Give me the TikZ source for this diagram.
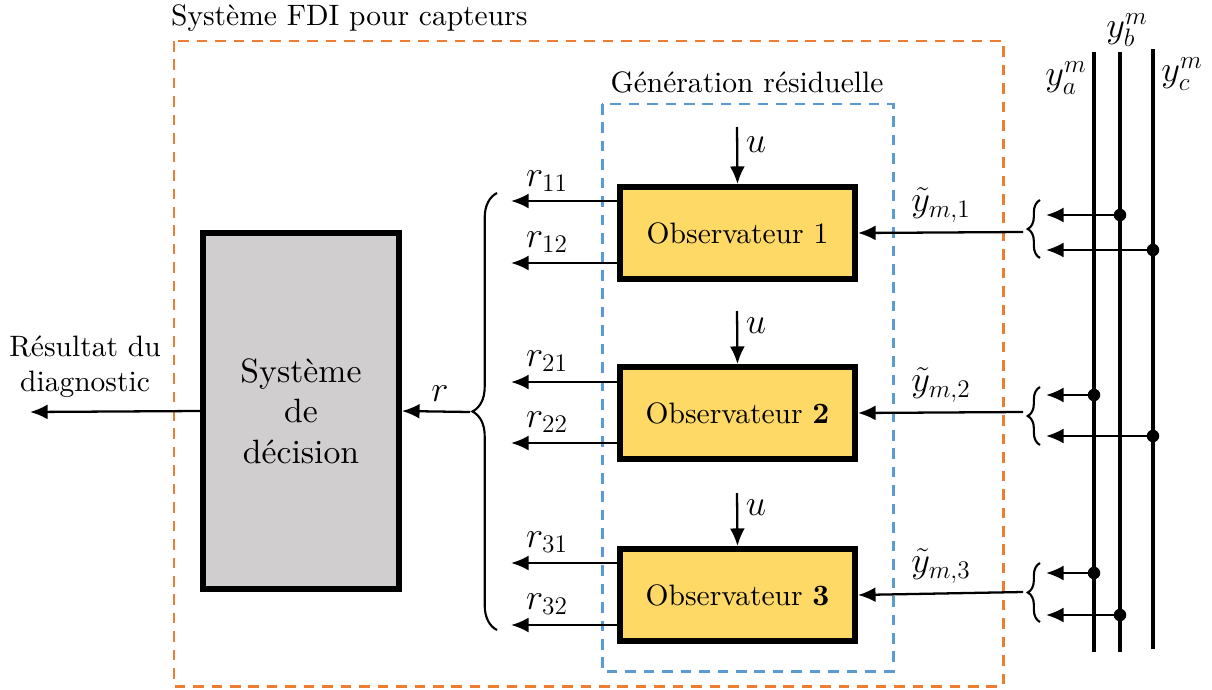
\documentclass[tikz,border=0pt]{standalone}
\usepackage{fontspec}
\setmainfont{lmroman10-regular.otf}[BoldFont=lmroman10-bold.otf, ItalicFont=lmroman10-italic.otf]
\usetikzlibrary{arrows.meta,decorations.pathreplacing}
\definecolor{obsyellow}{HTML}{FFD966}
\definecolor{decgray}{HTML}{D0CECE}
\definecolor{fdiorange}{HTML}{ED7D31}
\definecolor{genblue}{HTML}{5B9BD5}
\begin{document}
\begin{tikzpicture}[x=0.02cm,y=-0.02cm,
  font=\fontsize{16.8}{20}\selectfont,
  obsbox/.style={draw, line width=3.4pt, fill=obsyellow, minimum width=4.7cm, minimum height=1.84cm, inner sep=0pt},
  decbox/.style={draw, line width=3.4pt, fill=decgray, minimum width=3.92cm, minimum height=7.12cm, align=center, font=\fontsize{19.2}{23}\selectfont},
  arr/.style={line width=1.3pt, -{Latex[length=10pt,width=8.5pt]}},
  bus/.style={line width=1.9pt},
  junc/.style={circle, fill=black, inner sep=0pt, minimum size=0.25cm},
  orangebox/.style={draw=fdiorange, line width=1.7pt, dash pattern=on 6pt off 4.5pt},
  bluebox/.style={draw=genblue, line width=1.7pt, dash pattern=on 6pt off 4.5pt},
  bigbrace/.style={line width=1.2pt, decorate, decoration={brace, amplitude=#1}},
  lbl/.style={inner sep=1pt},
  mlbl/.style={inner sep=1pt, font=\fontsize{20}{24}\selectfont}]
\useasboundingbox (0,0) rectangle (1212,689);

% dashed frames
\draw[orangebox] (174,41) rectangle (1003,686);
\node[lbl, anchor=west] (fdititle) at (169,18) {Système FDI pour capteurs};
\draw[bluebox] (602,104) rectangle (893,671);
\node[lbl] (gentitle) at (747,82) {Génération résiduelle};

% observers
\node[obsbox] (o1) at (737.5,233) {Observateur 1};
\node[obsbox] (o2) at (737.5,413) {Observateur \textbf{2}};
\node[obsbox] (o3) at (737.5,595) {Observateur \textbf{3}};

% decision system
\node[decbox] (dec) at (301,411) {Système\\de\\décision};

% output
\coordinate (outend) at (30,412);
\draw[arr] (dec.west) -- (outend);
\node[lbl, align=center] (reslab) at (85,367) {Résultat du\\diagnostic};

% r input
\coordinate (rstart) at (470,412);
\draw[arr] (rstart) -- (dec.east);
\node[mlbl] (rlab) at (440,394) {$r$};

% big brace
\draw[bigbrace=14] (497,630) -- (497,193);

% residual arrows
\draw[arr] (o1.west |- 0,201) -- +(-106,0);
\draw[arr] (o1.west |- 0,263) -- +(-106,0);
\draw[arr] (o2.west |- 0,382) -- +(-106,0);
\draw[arr] (o2.west |- 0,443) -- +(-106,0);
\draw[arr] (o3.west |- 0,563) -- +(-106,0);
\draw[arr] (o3.west |- 0,625) -- +(-106,0);
\node[mlbl] (r11) at (547,181) {$r_{11}$};
\node[mlbl] (r12) at (547,242) {$r_{12}$};
\node[mlbl] (r21) at (547,361) {$r_{21}$};
\node[mlbl] (r22) at (547,422) {$r_{22}$};
\node[mlbl] (r31) at (547,542) {$r_{31}$};
\node[mlbl] (r32) at (547,604) {$r_{32}$};

% u inputs
\coordinate (u1) at (737,127);
\coordinate (u2) at (737,311);
\coordinate (u3) at (737,493);
\draw[arr] (u1) -- (o1.north);
\draw[arr] (u2) -- (o2.north);
\draw[arr] (u3) -- (o3.north);
\node[mlbl] (u1lab) at (756,145) {$u$};
\node[mlbl] (u2lab) at (756,326) {$u$};
\node[mlbl] (u3lab) at (756,508) {$u$};

% measured inputs
\coordinate (y1) at (1023,232);
\coordinate (y2) at (1023,412);
\coordinate (y3) at (1023,592);
\draw[arr] (y1) -- (o1.east);
\draw[arr] (y2) -- (o2.east);
\draw[arr] (y3) -- (o3.east);
\node[mlbl] (y1lab) at (941,205) {$\tilde{y}_{m,1}$};
\node[mlbl] (y2lab) at (941,385) {$\tilde{y}_{m,2}$};
\node[mlbl] (y3lab) at (941,566) {$\tilde{y}_{m,3}$};

% small braces
\draw[bigbrace=7] (1040,258) -- (1040,200);
\draw[bigbrace=7] (1040,445) -- (1040,387);
\draw[bigbrace=7] (1040,622) -- (1040,563);

% bus lines
\coordinate (atop) at (1094,52);  \coordinate (abot) at (1094,652);
\coordinate (btop) at (1120,52);  \coordinate (bbot) at (1120,652);
\coordinate (ctop) at (1153,49);  \coordinate (cbot) at (1153,649);
\draw[bus] (atop) -- (abot);
\draw[bus] (btop) -- (bbot);
\draw[bus] (ctop) -- (cbot);
\node[mlbl] (yalab) at (1066,78) {$y_a^m$};
\node[mlbl] (yblab) at (1127,30) {$y_b^m$};
\node[mlbl] (yclab) at (1182,74) {$y_c^m$};

% junctions and taps
\node[junc] (j1) at (1120,215) {};
\node[junc] (j2) at (1153,250) {};
\node[junc] (j3) at (1094,395) {};
\node[junc] (j4) at (1153,436) {};
\node[junc] (j5) at (1094,573) {};
\node[junc] (j6) at (1120,615) {};
\draw[arr] (j1.center) -- (1046,215);
\draw[arr] (j2.center) -- (1046,250);
\draw[arr] (j3.center) -- (1046,395);
\draw[arr] (j4.center) -- (1046,436);
\draw[arr] (j5.center) -- (1046,573);
\draw[arr] (j6.center) -- (1046,615);
\end{tikzpicture}
\end{document}
